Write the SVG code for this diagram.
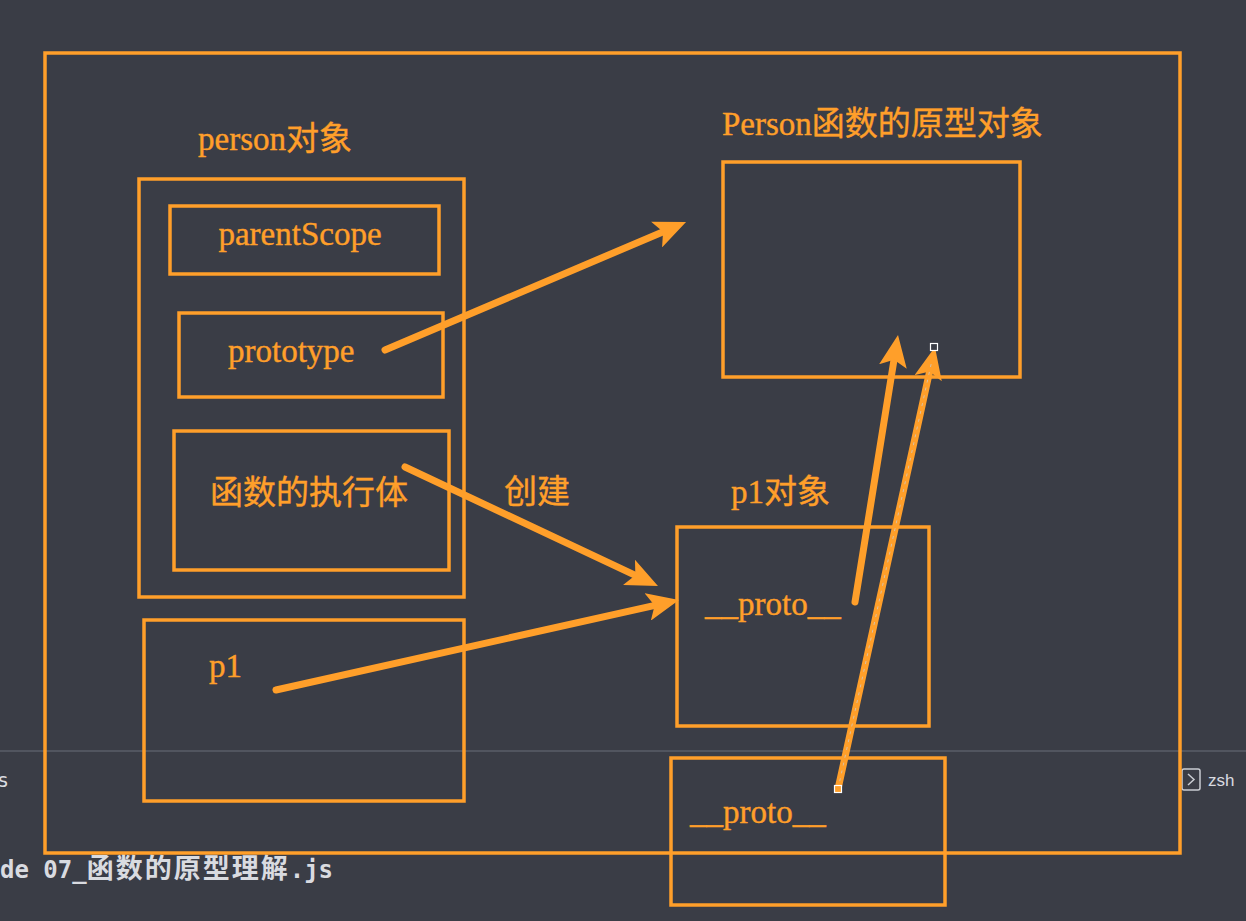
<svg xmlns="http://www.w3.org/2000/svg" width="1246" height="921" viewBox="0 0 1246 921">
<defs>
<style>
.box{fill:none;stroke:#ff9f2a;stroke-width:3.5}
.lbl{fill:#ff9f2a;stroke:#ff9f2a;stroke-width:0.4;font-family:"Liberation Serif","Noto Sans CJK SC",serif;font-size:33px}
.cjk{fill:#ff9f2a;stroke:#ff9f2a;stroke-width:0.4;font-family:"Noto Sans CJK SC",sans-serif;font-size:33px}
.arr{fill:none;stroke:#ff9f2a;stroke-width:7;stroke-linecap:round;marker-end:url(#ah)}
.term{fill:#d9dbe0;font-family:"DejaVu Sans Mono","Noto Sans CJK SC",monospace}
</style>
<marker id="ah" viewBox="0 0 32 28" markerWidth="32" markerHeight="28" refX="20" refY="14" orient="auto" markerUnits="userSpaceOnUse">
<path d="M0,0 L32,14 L0,28 L7,14 z" fill="#ff9f2a"/>
</marker>
</defs>
<rect width="1246" height="921" fill="#3a3d46"/>
<g id="terminal">
<line x1="0" y1="751" x2="1246" y2="751" stroke="#5a5e68" stroke-width="1.5"/>
<text class="term" x="-3" y="787" font-size="20">s</text>
<rect x="1182" y="769" width="18" height="21" fill="none" stroke="#c9ccd2" stroke-width="1.5" rx="2"/>
<path d="M1188,774 L1194,779.5 L1188,785" fill="none" stroke="#c9ccd2" stroke-width="1.5"/>
<text x="1208" y="786" font-family="'Liberation Sans',sans-serif" font-size="17" fill="#d9dbe0">zsh</text>
<text class="term" x="0" y="878" font-size="24" font-weight="bold">de 07_<tspan font-size="27" letter-spacing="2">函数的原型理解</tspan>.js</text>
</g>
<g id="outer"><rect class="box" x="45" y="53" width="1135" height="800"/></g>
<g id="person">
<text class="lbl" x="198" y="150">person<tspan class="cjk">对象</tspan></text>
<rect class="box" x="139" y="179" width="325" height="418"/>
</g>
<g id="parentScope">
<rect class="box" x="170" y="206" width="269" height="68"/>
<text class="lbl" x="300" y="245" text-anchor="middle">parentScope</text>
</g>
<g id="prototype">
<rect class="box" x="179" y="313" width="264" height="84"/>
<text class="lbl" x="228" y="362">prototype</text>
</g>
<g id="body">
<rect class="box" x="174" y="431" width="275" height="139"/>
<text class="cjk" x="210" y="504">函数的执行体</text>
</g>
<g id="p1">
<rect class="box" x="144" y="620" width="320" height="181"/>
<text class="lbl" x="209" y="677">p1</text>
</g>
<g id="personProto">
<text class="lbl" x="722" y="135">Person<tspan class="cjk">函数的原型对象</tspan></text>
<rect class="box" x="723" y="162" width="297" height="215"/>
</g>
<g id="p1obj">
<text class="lbl" x="731" y="503">p1<tspan class="cjk">对象</tspan></text>
<rect class="box" x="677" y="527" width="252" height="199"/>
<text class="lbl" x="705" y="615">__proto__</text>
</g>
<g id="protoBox">
<rect class="box" x="671" y="758" width="274" height="147"/>
<text class="lbl" x="690" y="823">__proto__</text>
</g>
<text class="cjk" x="504" y="503">创建</text>
<g id="connectors">
<line class="arr" x1="385" y1="350" x2="675" y2="226.7"/>
<line class="arr" x1="405" y1="467" x2="647.1" y2="580.9"/>
<line class="arr" x1="276" y1="690" x2="667.3" y2="602.6"/>
<line class="arr" x1="855" y1="602" x2="896.1" y2="346.8"/>
<line class="arr" x1="838" y1="789" x2="932.4" y2="358.7"/>
<line x1="838" y1="789" x2="932" y2="360" stroke="#c8d0dc" stroke-width="1" stroke-dasharray="3,5" opacity="0.7"/>
<rect x="834.5" y="785.5" width="7" height="7" fill="#ff9f2a" stroke="#ffffff" stroke-width="1.2"/>
<rect x="930.5" y="343.5" width="7" height="7" fill="#3a3d46" stroke="#ffffff" stroke-width="1.2"/>
</g>
</svg>
